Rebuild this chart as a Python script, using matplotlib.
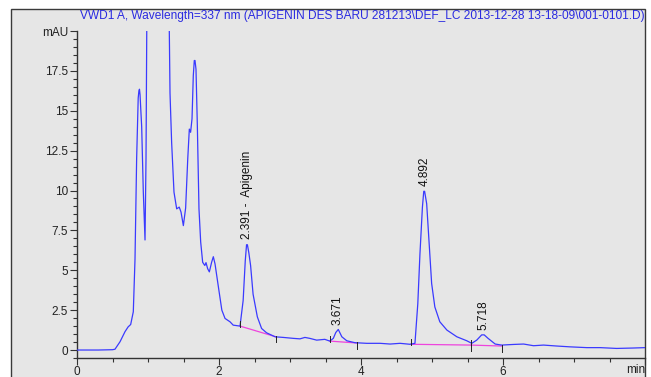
import matplotlib
matplotlib.use("Agg")
import matplotlib.pyplot as plt
from matplotlib.patches import Rectangle
from matplotlib.ticker import MultipleLocator

plt.rcParams['font.family'] = ['Liberation Sans', 'DejaVu Sans']

# ---- data ----
time_min = [0.00, 0.30, 0.50, 0.535, 0.606, 0.676, 0.72, 0.756, 0.793, 0.817,
            0.84, 0.862, 0.872, 0.880, 0.888, 0.897, 0.911, 0.934, 0.958, 0.972,
            0.985, 1.05, 1.20, 1.295, 1.31, 1.333, 1.366, 1.404, 1.44, 1.465,
            1.498, 1.53, 1.56, 1.582, 1.60, 1.62, 1.638, 1.652, 1.662, 1.676,
            1.695, 1.718, 1.742, 1.77, 1.80, 1.817, 1.84, 1.864, 1.896, 1.92,
            1.944, 1.99, 2.04, 2.085, 2.155, 2.20, 2.296, 2.34, 2.37, 2.388,
            2.400, 2.42, 2.445, 2.48, 2.54, 2.60, 2.67, 2.79, 2.906, 3.05,
            3.14, 3.21, 3.28, 3.376, 3.49, 3.56, 3.61, 3.645, 3.68, 3.73,
            3.80, 3.915, 4.08, 4.27, 4.41, 4.55, 4.69, 4.76, 4.78, 4.80,
            4.83, 4.865, 4.884, 4.896, 4.925, 4.96, 4.995, 5.04, 5.11, 5.21,
            5.35, 5.49, 5.56, 5.63, 5.70, 5.735, 5.79, 5.89, 5.98, 6.15,
            6.29, 6.43, 6.57, 6.76, 6.94, 7.18, 7.37, 7.60, 7.83, 8.00]
signal_mau = [0.00, 0.00, 0.02, 0.05, 0.52, 1.15, 1.45, 1.60, 2.40, 5.70,
              12.0, 15.8, 16.25, 16.35, 16.0, 15.2, 14.0, 9.9, 6.9, 12.0,
              22.0, 45.0, 40.0, 22.0, 16.1, 13.0, 9.9, 8.85, 8.96, 8.65,
              7.8, 8.9, 12.0, 13.85, 13.65, 14.5, 17.2, 18.15, 18.15, 17.6,
              14.06, 8.85, 6.77, 5.5, 5.3, 5.48, 5.1, 4.9, 5.5, 5.85,
              5.4, 4.0, 2.5, 1.98, 1.77, 1.56, 1.50, 3.1, 5.6, 6.6,
              6.6, 6.1, 5.3, 3.5, 2.08, 1.35, 1.08, 0.83, 0.79, 0.73,
              0.70, 0.79, 0.73, 0.62, 0.67, 0.56, 0.73, 1.10, 1.29, 0.83,
              0.58, 0.46, 0.42, 0.42, 0.375, 0.42, 0.36, 0.42, 1.67, 2.9,
              6.0, 8.96, 9.95, 9.95, 9.17, 6.67, 4.17, 2.7, 1.77, 1.25,
              0.83, 0.58, 0.42, 0.62, 0.95, 0.95, 0.73, 0.375, 0.31, 0.35,
              0.375, 0.27, 0.31, 0.25, 0.20, 0.15, 0.15, 0.10, 0.125, 0.15]

# integration baselines (start/end of each peak)
bl_start_t = [2.296, 3.56, 4.70, 5.55]
bl_start_v = [1.50, 0.56, 0.36, 0.31]
bl_end_t = [2.80, 3.94, 5.55, 5.98]
bl_end_v = [0.83, 0.44, 0.31, 0.25]

# peak annotations
peak_t = [2.394, 3.675, 4.89, 5.72]
peak_v = [6.67, 1.29, 10.0, 0.98]
peak_labels = ["2.391 -  Apigenin", "3.671", "4.892", "5.718"]

y_ticks = [0, 2.5, 5, 7.5, 10, 12.5, 15, 17.5, 20]
y_ticklabels = ["0", "2.5", "5", "7.5", "10", "12.5", "15", "17.5", "mAU"]
x_ticks = [0, 2, 4, 6, 8]
x_ticklabels = ["0", "2", "4", "6", ""]

title = "VWD1 A, Wavelength=337 nm (APIGENIN DES BARU 281213\\DEF_LC 2013-12-28 13-18-09\\001-0101.D)"

# ---- figure ----
W, H = 651, 377
fig = plt.figure(figsize=(W / 100, H / 100), dpi=100, facecolor='white')

bg = Rectangle((11 / W, -0.1), (645 - 11) / W, 1.1 - 9.5 / H,
               transform=fig.transFigure, facecolor='#e6e6e6',
               edgecolor='#3a3a3a', linewidth=1.0, zorder=-5)
fig.add_artist(bg)

ax = fig.add_axes([77 / W, (H - 358) / H, (645 - 77) / W, (358 - 31) / H])
ax.set_facecolor('none')

ax.plot(time_min, signal_mau, color='#3a3aff', lw=0.9, zorder=3)

for ts, vs, te, ve in zip(bl_start_t, bl_start_v, bl_end_t, bl_end_v):
    ax.plot([ts, te], [vs, ve], color='#ee44dd', lw=0.9, zorder=2)
for ts, vs in zip(bl_start_t, bl_start_v):
    ax.plot([ts, ts], [vs - 0.05, vs + 0.3], color='#222222', lw=0.7, zorder=4)
for te, ve in zip(bl_end_t, bl_end_v):
    ax.plot([te, te], [ve - 0.35, ve + 0.05], color='#222222', lw=0.7, zorder=4)

for t, v, lab in zip(peak_t, peak_v, peak_labels):
    ax.annotate(lab, xy=(t, v), xytext=(0, 3), textcoords='offset points',
                rotation=90, ha='center', va='bottom', fontsize=8.5,
                color='#111111')

ax.set_xlim(0, 8)
ax.set_ylim(-0.5, 20)
ax.set_xticks(x_ticks)
ax.set_xticklabels(x_ticklabels)
ax.set_yticks(y_ticks)
ax.set_yticklabels(y_ticklabels)
ax.xaxis.set_minor_locator(MultipleLocator(0.5))
ax.yaxis.set_minor_locator(MultipleLocator(0.5))

for s in ['top', 'right']:
    ax.spines[s].set_visible(False)
for s in ['left', 'bottom']:
    ax.spines[s].set_color('#333333')
    ax.spines[s].set_linewidth(1.0)

ax.tick_params(axis='both', which='major', direction='out', length=5,
               width=0.8, color='#333333', labelsize=8.5, labelcolor='#222222')
ax.tick_params(axis='both', which='minor', direction='out', length=3,
               width=0.8, color='#333333')
ax.tick_params(axis='y', which='major', pad=1.5)
ax.tick_params(axis='x', which='major', pad=1.0)

ax.annotate("min", xy=(1.0, 0.0), xycoords='axes fraction',
            xytext=(0, -4.5), textcoords='offset points',
            ha='right', va='top', fontsize=8.5, color='#222222')

ttl = fig.text(80 / W, 1 - 16 / H, title, ha='left', va='center', fontsize=8.55,
               color='#2a2ae0')
ttl.set_clip_path(bg)

fig.savefig("out.png", dpi=100, facecolor='white')
